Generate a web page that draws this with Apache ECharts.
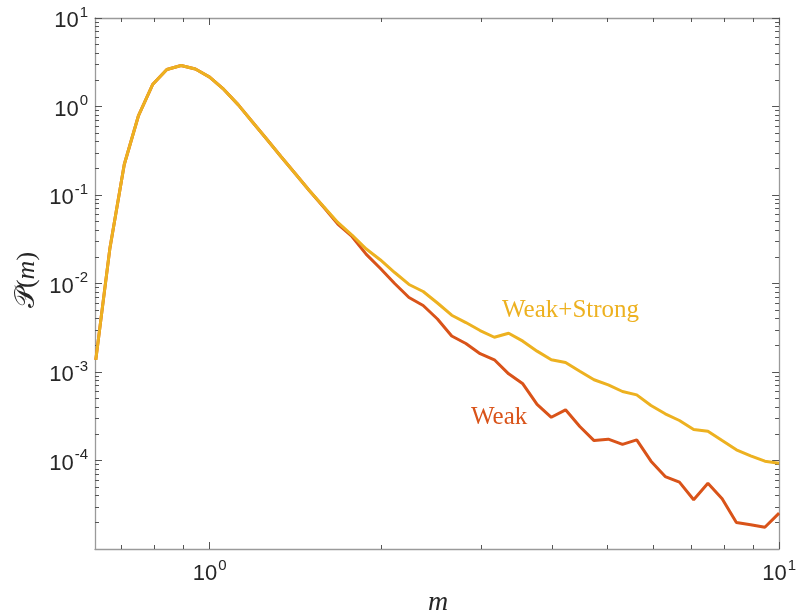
<!DOCTYPE html>
<html>
<head>
<meta charset="utf-8">
<script src="https://cdn.jsdelivr.net/npm/echarts@6/dist/echarts.min.js"></script>
<style>html,body{margin:0;padding:0;background:#fff;}#c{width:799px;height:616px;}</style>
</head>
<body>
<div id="c"></div>
<script>
const mValues = [0.631,0.668,0.708,0.750,0.794,0.841,0.891,0.944,1.000,1.059,1.122,1.189,1.259,1.334,1.413,1.496,1.585,1.679,1.778,1.884,1.995,2.113,2.239,2.371,2.512,2.661,2.818,2.985,3.162,3.350,3.548,3.758,3.981,4.217,4.467,4.732,5.012,5.309,5.623,5.957,6.310,6.683,7.079,7.499,7.943,8.414,8.913,9.441,10.000];
const weakStrong = [1.37e-3,0.0249,0.221,0.791,1.77,2.62,2.91,2.65,2.15,1.56,1.05,0.668,0.429,0.272,0.175,0.1125,0.0741,0.0489,0.0353,0.0245,0.01844,0.01331,0.00975,0.00812,0.00602,0.00438,0.00362,0.00294,0.00247,0.00274,0.00223,0.00172,0.001374,0.00128,0.00102,8.17e-4,7.16e-4,6.02e-4,5.52e-4,4.18e-4,3.37e-4,2.83e-4,2.24e-4,2.14e-4,1.68e-4,1.32e-4,1.13e-4,9.82e-5,9.31e-5];
const weak = [1.37e-3,0.0249,0.221,0.791,1.77,2.62,2.91,2.65,2.15,1.56,1.05,0.668,0.429,0.272,0.175,0.1125,0.0732,0.0470,0.0340,0.0213,0.01477,0.0100,0.00695,0.00564,0.00397,0.00255,0.00210,0.00161,0.001374,9.54e-4,7.36e-4,4.30e-4,3.08e-4,3.74e-4,2.42e-4,1.68e-4,1.74e-4,1.52e-4,1.71e-4,9.82e-5,6.59e-5,5.69e-5,3.60e-5,5.54e-5,3.69e-5,1.99e-5,1.88e-5,1.76e-5,2.54e-5];
const xMajorTicks = [1, 10];
const xMinorTicks = [0.7,0.8,0.9,2,3,4,5,6,7,8,9];
const yMajorTicks = [1e-4,1e-3,1e-2,1e-1,1,10];
const yMinorTicks = [];
[1e-5,1e-4,1e-3,1e-2,1e-1,1].forEach(d => { for (let k = 2; k <= 9; k++) yMinorTicks.push(+(k*d).toPrecision(3)); });

const X_MIN = 0.629, X_MAX = 10, Y_MIN = 1e-5, Y_MAX = 10;
const lineCol = '#9a9a9a', tickCol = '#555555', txtCol = '#262626';
const sans = '"Liberation Sans", Arial, Helvetica, sans-serif';
const serif = '"Liberation Serif", "Times New Roman", serif';

function powLabel(v) {
  const e = Math.round(Math.log10(v));
  return '{b|10}{s|' + e + '}';
}
const richLab = {
  b: { fontSize: 22, lineHeight: 22, fontFamily: sans, color: txtCol, verticalAlign: 'bottom' },
  s: { fontSize: 15, lineHeight: 15, padding: [0, 0, 12, 1], fontFamily: sans, color: txtCol, verticalAlign: 'bottom' }
};

function mkAxis(kind, pos, ticks, len, showLine, labels) {
  const isX = kind === 'x';
  return {
    type: 'log', logBase: 10, position: pos,
    min: isX ? X_MIN : Y_MIN, max: isX ? X_MAX : Y_MAX,
    axisLine: { show: showLine, onZero: false, lineStyle: { color: lineCol, width: 1.3 } },
    axisTick: { show: true, inside: true, length: len, customValues: ticks, lineStyle: { color: tickCol, width: 1 } },
    axisLabel: labels ? { show: true, customValues: ticks, formatter: powLabel, rich: richLab,
      margin: isX ? 14 : 7, padding: isX ? 0 : [6, 0, 0, 0] } : { show: false },
    splitLine: { show: false }, minorTick: { show: false }, minorSplitLine: { show: false }
  };
}

const chart = echarts.init(document.getElementById('c'), null, { renderer: 'canvas' });
chart.setOption({
  animation: false,
  backgroundColor: '#ffffff',
  grid: { left: 95, right: 18, top: 18, bottom: 67, containLabel: false },
  xAxis: [
    mkAxis('x', 'bottom', xMajorTicks, 7, true, true),
    mkAxis('x', 'bottom', xMinorTicks, 4, false, false),
    mkAxis('x', 'top', xMajorTicks, 7, true, false),
    mkAxis('x', 'top', xMinorTicks, 4, false, false)
  ],
  yAxis: [
    mkAxis('y', 'left', yMajorTicks, 7, true, true),
    mkAxis('y', 'left', yMinorTicks, 4, false, false),
    mkAxis('y', 'right', yMajorTicks, 7, true, false),
    mkAxis('y', 'right', yMinorTicks, 4, false, false)
  ],
  series: [
    { name: 'Weak', type: 'line', xAxisIndex: 0, yAxisIndex: 0, showSymbol: false, symbol: 'none',
      lineStyle: { color: '#D95319', width: 3 }, data: mValues.map((m, i) => [m, weak[i]]) },
    { name: 'Weak+Strong', type: 'line', xAxisIndex: 0, yAxisIndex: 0, showSymbol: false, symbol: 'none',
      lineStyle: { color: '#EDB120', width: 3 }, data: mValues.map((m, i) => [m, weakStrong[i]]) }
  ],
  graphic: [
    { type: 'text', x: 502, y: 310, style: { text: 'Weak+Strong', font: '25px ' + serif, fill: '#EDB120', align: 'left', verticalAlign: 'middle' } },
    { type: 'text', x: 471, y: 417, style: { text: 'Weak', font: '25px ' + serif, fill: '#D95319', align: 'left', verticalAlign: 'middle' } },
    { type: 'text', x: 438, y: 603, style: { text: 'm', font: 'italic 28px ' + serif, fill: txtCol, align: 'center', verticalAlign: 'middle' } },
    { type: 'text', x: 27, y: 280, rotation: Math.PI / 2,
      style: { text: '{p|𝒫}{n|(}{m|m}{n|)}', align: 'center', verticalAlign: 'middle',
        rich: {
          p: { fontSize: 28, fontFamily: '"DejaVu Serif", "DejaVu Sans", serif', fill: txtCol },
          n: { fontSize: 26, fontFamily: serif, fill: txtCol },
          m: { fontSize: 26, fontStyle: 'italic', fontFamily: serif, fill: txtCol }
        } } }
  ]
});
</script>
</body>
</html>
